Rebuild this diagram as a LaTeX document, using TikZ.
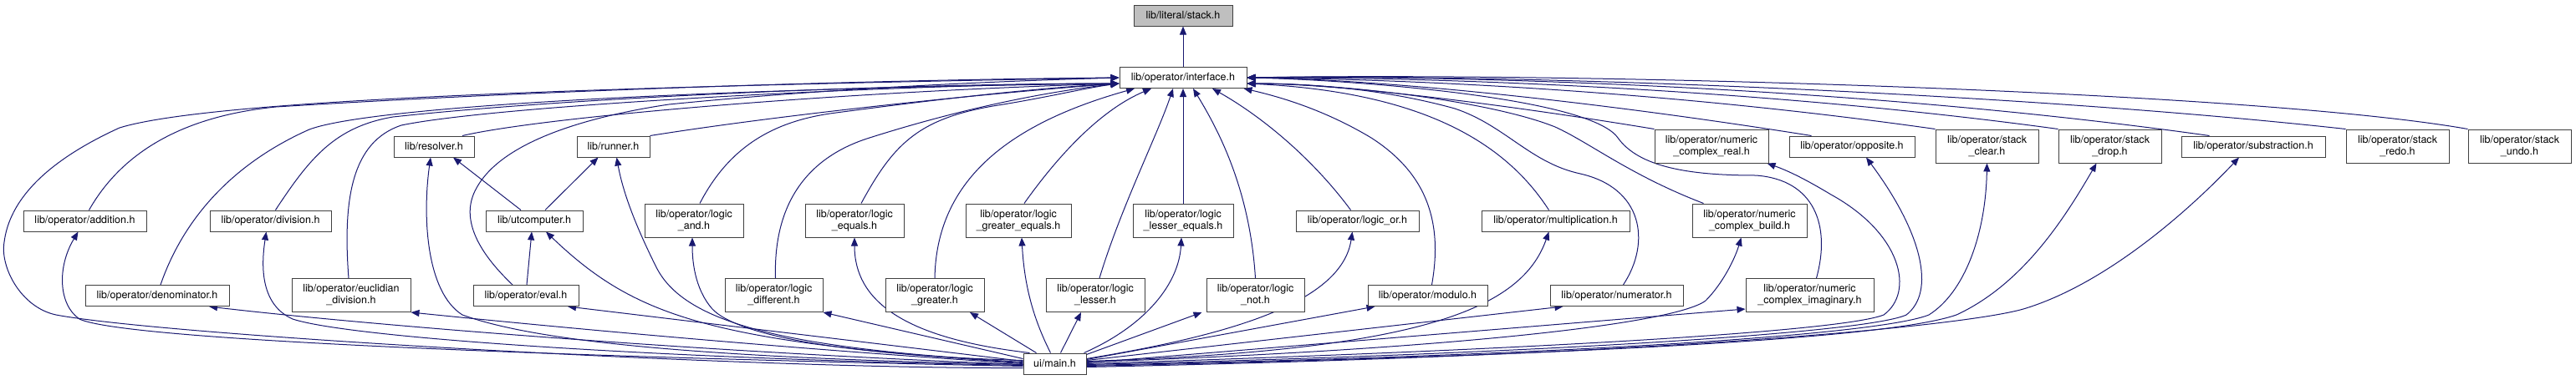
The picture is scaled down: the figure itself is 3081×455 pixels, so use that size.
\documentclass[tikz,border=0pt]{standalone}
\usepackage{fontspec}
\setmainfont{TeX Gyre Heros}
\usetikzlibrary{arrows.meta,calc,backgrounds}
\definecolor{edgecol}{HTML}{191970}
\definecolor{boxline}{HTML}{404040}
\definecolor{boxgray}{HTML}{BFBFBF}
\begin{document}
\begin{tikzpicture}[x=1pt,y=-1pt,
 box/.style={draw=boxline,line width=1pt,fill=white,inner sep=0pt,font=\fontsize{12.5}{14}\selectfont,align=center},
 one/.style={box,minimum height=25pt},
 two/.style={box,minimum height=40pt},
 dep/.style={draw=edgecol,line width=1pt,-{Triangle[length=10pt,width=8pt,fill=edgecol]}}]
\useasboundingbox (0,0) rectangle (3081,455);

\node[one,minimum width=118pt,fill=boxgray] (stack) at (1415,18.5) {lib/literal/stack.h};
\node[one,minimum width=152pt] (interface) at (1415,93) {lib/operator/interface.h};
\node[one,minimum width=147pt] (addition) at (101.5,264.5) {lib/operator/addition.h};
\node[one,minimum width=145pt] (division) at (323.5,264.5) {lib/operator/division.h};
\node[one,minimum width=172pt] (denominator) at (188,354) {lib/operator/denominator.h};
\node[two,minimum width=142pt] (euclid) at (420,353.5) {lib/operator/euclidian\\\_division.h};
\node[one,minimum width=96pt] (resolver) at (519,175.5) {lib/resolver.h};
\node[one,minimum width=87pt] (runner) at (733.5,175.5) {lib/runner.h};
\node[one,minimum width=116pt] (utcomputer) at (639,264.5) {lib/utcomputer.h};
\node[one,minimum width=126pt] (eval) at (629,354) {lib/operator/eval.h};
\node[two,minimum width=118pt] (land) at (830,264) {lib/operator/logic\\\_and.h};
\node[two,minimum width=117pt] (ldiff) at (925.5,353.5) {lib/operator/logic\\\_different.h};
\node[two,minimum width=118pt] (leq) at (1022,264) {lib/operator/logic\\\_equals.h};
\node[two,minimum width=126pt] (lgeq) at (1218,264) {lib/operator/logic\\\_greater\_equals.h};
\node[two,minimum width=120pt] (lleq) at (1415,264) {lib/operator/logic\\\_lesser\_equals.h};
\node[two,minimum width=118pt] (lgt) at (1118,353.5) {lib/operator/logic\\\_greater.h};
\node[two,minimum width=118pt] (llt) at (1310,353.5) {lib/operator/logic\\\_lesser.h};
\node[two,minimum width=117pt] (lnot) at (1501.5,353.5) {lib/operator/logic\\\_not.h};
\node[one,minimum width=147pt] (lor) at (1623.5,264.5) {lib/operator/logic\_or.h};
\node[one,minimum width=143pt] (modulo) at (1707.5,354) {lib/operator/modulo.h};
\node[one,minimum width=177pt] (mult) at (1860.5,264.5) {lib/operator/multiplication.h};
\node[one,minimum width=159pt] (numer) at (1933.5,354) {lib/operator/numerator.h};
\node[two,minimum width=136pt] (creal) at (2047,175) {lib/operator/numeric\\\_complex\_real.h};
\node[two,minimum width=137pt] (cbuild) at (2092.5,264) {lib/operator/numeric\\\_complex\_build.h};
\node[two,minimum width=153pt] (cimag) at (2164.5,353.5) {lib/operator/numeric\\\_complex\_imaginary.h};
\node[one,minimum width=150pt] (opposite) at (2215,175.5) {lib/operator/opposite.h};
\node[two,minimum width=123pt] (sclear) at (2376.5,175) {lib/operator/stack\\\_clear.h};
\node[two,minimum width=123pt] (sdrop) at (2523.5,175) {lib/operator/stack\\\_drop.h};
\node[one,minimum width=172pt] (subs) at (2695,175.5) {lib/operator/substraction.h};
\node[two,minimum width=123pt] (sredo) at (2867.5,175) {lib/operator/stack\\\_redo.h};
\node[two,minimum width=123pt] (sundo) at (3013.5,175) {lib/operator/stack\\\_undo.h};
\node[one,minimum width=75pt] (main) at (1261.5,435.5) {ui/main.h};

\coordinate (IWa) at ($(interface.west)+(0,0)$);
\coordinate (IWb) at ($(interface.west)+(0,7)$);
\coordinate (IEa) at ($(interface.east)+(0,0)$);
\coordinate (IEb) at ($(interface.east)+(0,7)$);

\begin{scope}[on background layer]
\draw[dep] (interface.north) -- (stack.south);
% left side into interface
\draw[dep] ($(main.west)+(0,5)$) .. controls (900,442) and (200,402) .. (67,377) .. controls (25,368) and (0,320) .. (5,290) .. controls (10,250) and (40,200) .. (143,153) .. controls (250,120) and (700,104) .. (IWa);
\draw[dep] ($(addition.north)+(5,0)$) .. controls (150,175) and (230,138) .. (330,128) .. controls (700,105) and (1100,95) .. (IWa);
\draw[dep] ($(denominator.north)+(4,0)$) .. controls (220,260) and (280,195) .. (370,155) .. controls (450,125) and (900,105) .. (IWb);
\draw[dep] ($(division.north)+(6,0)$) .. controls (370,190) and (400,152) .. (470,140) .. controls (700,115) and (1100,100) .. (IWb);
\draw[dep] ($(euclid.north)+(-3,0)$) .. controls (410,240) and (420,170) .. (480,150) .. controls (600,125) and (1100,100) .. (IWb);
\draw[dep] ($(resolver.north)+(34,0)$) .. controls (650,140) and (1000,110) .. (IWb);
\draw[dep] ($(eval.north)+(-16,0)$) .. controls (570,300) and (550,260) .. (570,225) .. controls (600,170) and (700,140) .. (800,125) .. controls (1000,105) and (1200,97) .. (IWa);
\draw[dep] (runner.north east) .. controls (950,135) and (1200,110) .. (IWb);
\draw[dep] ($(land.north)+(7,0)$) .. controls (870,180) and (920,145) .. (1000,135) .. controls (1150,115) and (1250,105) .. (IWb);
\draw[dep] ($(leq.north)+(8,0)$) .. controls (1070,170) and (1100,140) .. (1200,125) .. controls (1260,115) and (1300,105) .. (IWb);
\draw[dep] ($(ldiff.north)+(2,0)$) .. controls (925,250) and (960,190) .. (1040,165) .. controls (1150,130) and (1250,110) .. (IWb);
% bottom into interface
\draw[dep] (lgt.north) .. controls (1120,220) and (1200,150) .. ($(interface.south)+(-58,0)$);
\draw[dep] ($(lgeq.north)+(7,0)$) .. controls (1270,180) and (1320,130) .. ($(interface.south)+(-38,0)$);
\draw[dep] ($(llt.north)+(5,0)$) .. controls (1340,250) and (1385,160) .. ($(interface.south)+(-12,0)$);
\draw[dep] (lleq.north) -- (interface.south);
\draw[dep] (lnot.north) .. controls (1495,230) and (1460,160) .. ($(interface.south)+(12,0)$);
\draw[dep] ($(lor.north)+(-8,0)$) .. controls (1570,190) and (1510,140) .. ($(interface.south)+(35,0)$);
\draw[dep] ($(modulo.north)+(5,0)$) .. controls (1725,270) and (1710,210) .. (1640,165) .. controls (1590,135) and (1540,118) .. ($(interface.south east)+(-4,0)$);
% right side into interface
\draw[dep] ($(mult.north)+(-8,0)$) .. controls (1800,170) and (1700,110) .. (IEb);
\draw[dep] ($(numer.north)+(8,0)$) .. controls (1975,290) and (1965,225) .. (1890,208) .. controls (1830,195) and (1800,150) .. (1740,130) .. controls (1650,105) and (1560,100) .. (IEb);
\draw[dep] ($(cbuild.north)+(-55,0)$) .. controls (1950,210) and (1900,170) .. (1860,152) .. controls (1780,120) and (1600,100) .. (IEb);
\draw[dep] ($(cimag.north)+(8,0)$) .. controls (2190,270) and (2170,215) .. (2100,210) .. controls (2020,210) and (1960,200) .. (1935,165) .. controls (1900,115) and (1600,95) .. (IEa);
\draw[dep] (creal.north west) .. controls (1800,125) and (1600,100) .. (IEb);
\draw[dep] ($(opposite.north west)+(27,0)$) .. controls (1900,120) and (1650,95) .. (IEa);
\draw[dep] (sclear.north west) .. controls (2000,110) and (1700,95) .. (IEa);
\draw[dep] (sdrop.north west) .. controls (2100,105) and (1700,92) .. (IEa);
\draw[dep] ($(subs.north west)+(34,0)$) .. controls (2200,100) and (1700,90) .. (IEa);
\draw[dep] (sredo.north west) .. controls (2400,110) and (1800,88) .. (IEa);
\draw[dep] (sundo.north west) .. controls (2700,110) and (1900,86) .. (IEa);
% resolver / runner / utcomputer / eval
\draw[dep] ($(utcomputer.north)+(-16,0)$) -- ($(resolver.south)+(23,0)$);
\draw[dep] ($(utcomputer.north)+(13,0)$) -- ($(runner.south)+(-18,0)$);
\draw[dep] ($(eval.north)+(1,0)$) -- ($(utcomputer.south)+(-3,0)$);
% main.h to left
\draw[dep] ($(main.west)+(0,3)$) .. controls (700,428) and (150,408) .. (95,382) .. controls (70,365) and (68,320) .. ($(addition.south)+(-8,0)$);
\draw[dep] ($(main.west)+(0,1)$) .. controls (800,420) and (400,385) .. ($(denominator.south)+(62,0)$);
\draw[dep] ($(main.west)+(0,2)$) .. controls (800,430) and (420,405) .. (350,382) .. controls (312,365) and (312,320) .. ($(division.south)+(-5,0)$);
\draw[dep] (main.west) .. controls (900,415) and (600,385) .. (euclid.south east);
\draw[dep] ($(main.west)+(0,1)$) .. controls (800,428) and (630,405) .. (553,377) .. controls (510,350) and (505,260) .. ($(resolver.south)+(-4,0)$);
\draw[dep] ($(main.west)+(0,-2)$) .. controls (950,418) and (820,390) .. (785,320) .. controls (760,270) and (745,230) .. ($(runner.south)+(4,0)$);
\draw[dep] ($(main.west)+(0,-1)$) .. controls (850,410) and (760,380) .. ($(utcomputer.south)+(14,0)$);
\draw[dep] ($(main.west)+(0,-3)$) -- ($(eval.south)+(50,0)$);
\draw[dep] ($(main.west)+(0,-4)$) .. controls (1000,425) and (880,400) .. (852,370) .. controls (830,345) and (828,310) .. ($(land.south)+(-2,0)$);
\draw[dep] ($(main.west)+(0,-6)$) -- (ldiff.south east);
% main.h upwards
\draw[dep] ($(main.north west)+(8,0)$) .. controls (1080,405) and (1022,360) .. (leq.south);
\draw[dep] ($(main.north)+(-22,0)$) -- ($(lgt.south)+(42,0)$);
\draw[dep] ($(main.north)+(-5,0)$) .. controls (1235,380) and (1225,340) .. ($(lgeq.south)+(4,0)$);
\draw[dep] ($(main.north)+(7,0)$) -- ($(llt.south)+(-17,0)$);
\draw[dep] ($(main.north east)+(-3,0)$) .. controls (1370,390) and (1410,340) .. ($(lleq.south)+(-2,0)$);
\draw[dep] ($(main.north east)+(0,2)$) -- ($(lnot.south)+(-64,0)$);
% main.h to right
\draw[dep] ($(main.east)+(0,-6)$) .. controls (1480,400) and (1605,360) .. ($(lor.south)+(-6,0)$);
\draw[dep] ($(main.east)+(0,-5)$) -- ($(modulo.south west)+(9,0)$);
\draw[dep] ($(main.east)+(0,-3)$) .. controls (1700,420) and (1820,370) .. ($(mult.south)+(-8,0)$);
\draw[dep] ($(main.east)+(0,-4)$) -- ($(numer.south west)+(16,0)$);
\draw[dep] ($(main.east)+(0,-2)$) .. controls (1700,420) and (2000,390) .. (2040,360) .. controls (2060,340) and (2075,310) .. ($(cbuild.south)+(-10,0)$);
\draw[dep] ($(main.east)+(0,-1)$) -- ($(cimag.south west)+(0,-4)$);
\draw[dep] (main.east) .. controls (1800,420) and (2200,398) .. (2253,377) .. controls (2290,350) and (2275,280) .. (2190,233) .. controls (2160,215) and (2140,205) .. ($(creal.south east)+(-2,0)$);
\draw[dep] ($(main.east)+(0,1)$) .. controls (1800,425) and (2230,400) .. (2280,377) .. controls (2315,350) and (2300,280) .. ($(opposite.south)+(17,0)$);
\draw[dep] ($(main.east)+(0,2)$) .. controls (1900,425) and (2250,400) .. (2307,377) .. controls (2350,350) and (2375,280) .. (sclear.south);
\draw[dep] ($(main.east)+(0,3)$) .. controls (1900,425) and (2260,405) .. (2340,377) .. controls (2420,340) and (2470,260) .. ($(sdrop.south)+(-16,0)$);
\draw[dep] ($(main.east)+(0,4)$) .. controls (2000,425) and (2350,390) .. (2420,370) .. controls (2520,340) and (2620,250) .. ($(subs.south)+(-17,0)$);
\end{scope}
\end{tikzpicture}
\end{document}
